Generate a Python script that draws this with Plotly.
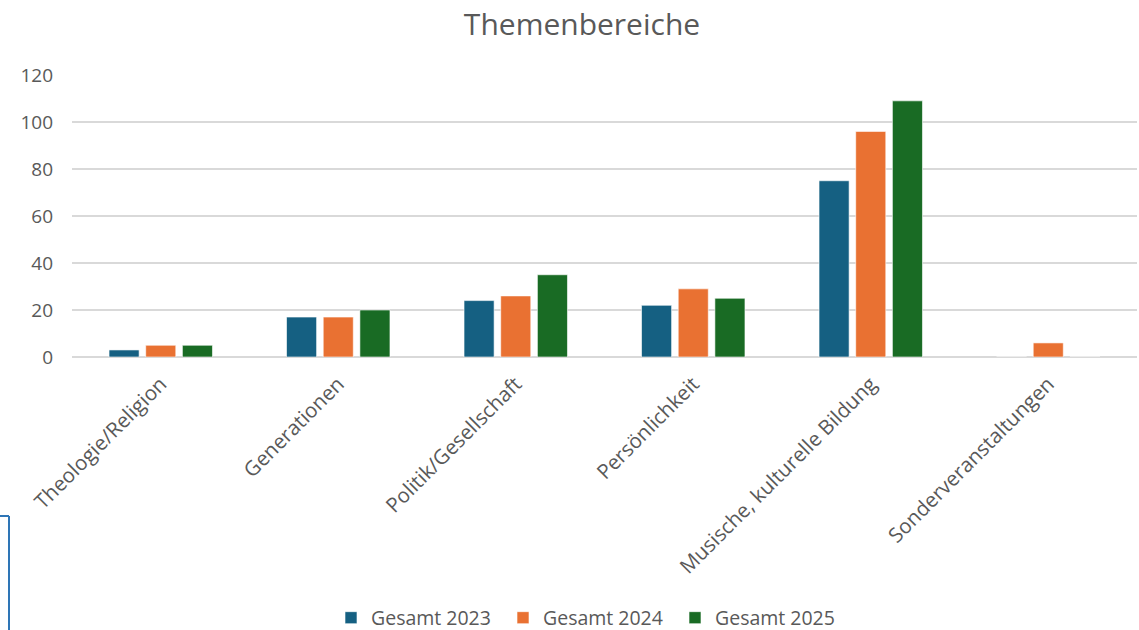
import plotly.graph_objects as go

categories = ["Theologie/Religion", "Generationen", "Politik/Gesellschaft",
              "Persönlichkeit", "Musische, kulturelle Bildung", "Sonderveranstaltungen"]
series_names = ["Gesamt 2023", "Gesamt 2024", "Gesamt 2025"]
values_2023 = [3, 17, 24, 22, 75, 0]
values_2024 = [5, 17, 26, 29, 96, 6]
values_2025 = [5, 20, 35, 25, 109, 0]
colors = ["#156082", "#E97132", "#196B24"]
y_ticks = [0, 20, 40, 60, 80, 100, 120]

W, H = 1139, 630
ml, mr, mt, mb = 72, 2, 75, 273
font = "Open Sans, Liberation Sans, Arial, sans-serif"
grey = "#595959"

fig = go.Figure()
for name, vals, col in zip(series_names, [values_2023, values_2024, values_2025], colors):
    fig.add_trace(go.Bar(
        x=categories, y=vals, name=name,
        marker=dict(color=col, line=dict(color="rgba(255,255,255,0.6)", width=1)),
    ))

plot_h = H - mt - mb
def py(p):
    return (H - mb - p) / plot_h
def px(p):
    return (p - ml) / (W - ml - mr)

fig.update_layout(
    width=W, height=H,
    margin=dict(l=ml, r=mr, t=mt, b=mb, autoexpand=False),
    paper_bgcolor="white", plot_bgcolor="white",
    barmode="group", bargap=0.38, bargroupgap=0.18,
    title=dict(text="Themenbereiche", xref="container", x=582 / W, xanchor="center",
               yref="container", y=1 - 24 / H, yanchor="middle",
               font=dict(family=font, size=30, color=grey)),
    font=dict(family=font, size=19, color=grey),
    xaxis=dict(tickangle=-45, showgrid=False, showline=False, ticks="",
               ticklabelstandoff=10,
               tickfont=dict(family=font, size=20.5, color=grey)),
    yaxis=dict(range=[0, 120], tickvals=y_ticks, showgrid=True,
               gridcolor="#D9D9D9", gridwidth=1.5, zeroline=True,
               zerolinecolor="#D9D9D9", zerolinewidth=1.5,
               ticks="", ticklabelstandoff=18,
               tickfont=dict(family=font, size=19, color=grey)),
    legend=dict(orientation="h", x=px(589), xanchor="center",
                y=py(618), yanchor="middle",
                font=dict(family=font, size=19.5, color=grey),
                itemwidth=30, entrywidth=127, traceorder="normal"),
    showlegend=True,
)

# selection-box artifact at left edge
fig.add_shape(type="line", xref="paper", yref="paper",
              x0=px(9), x1=px(9), y0=py(516), y1=py(632),
              line=dict(color="#2E75B6", width=2))
fig.add_shape(type="line", xref="paper", yref="paper",
              x0=px(-2), x1=px(9), y0=py(516), y1=py(516),
              line=dict(color="#2E75B6", width=2))

fig.write_html("out.html", config={"displayModeBar": False},
               post_script="document.body.style.margin='0';document.body.style.padding='0';")
